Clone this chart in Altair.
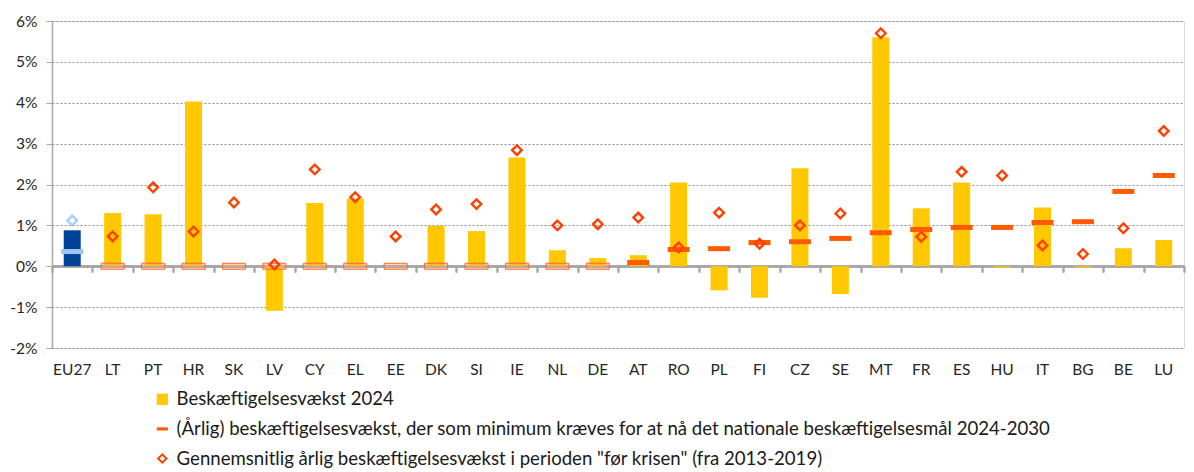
import altair as alt
import pandas as pd

countries = ["EU27", "LT", "PT", "HR", "SK", "LV", "CY", "EL", "EE", "DK", "SI", "IE", "NL", "DE",
             "AT", "RO", "PL", "FI", "CZ", "SE", "MT", "FR", "ES", "HU", "IT", "BG", "BE", "LU"]
growth_2024 = [0.88, 1.30, 1.27, 4.03, 0.02, -1.09, 1.55, 1.66, 0.00, 0.99, 0.86, 2.66, 0.39, 0.20,
               0.27, 2.05, -0.59, -0.77, 2.40, -0.68, 5.60, 1.42, 2.05, -0.03, 1.44, -0.03, 0.44, 0.64]
required_growth = [0.36, 0, 0, 0, 0, 0, 0, 0, 0, 0, 0, 0, 0, 0,
                   0.09, 0.41, 0.43, 0.58, 0.60, 0.68, 0.82, 0.90, 0.95, 0.95, 1.07, 1.09, 1.83, 2.22]
pre_crisis = [1.12, 0.73, 1.93, 0.85, 1.56, 0.04, 2.37, 1.69, 0.73, 1.39, 1.52, 2.84, 1.00, 1.03,
              1.19, 0.46, 1.31, 0.55, 1.00, 1.29, 5.70, 0.72, 2.31, 2.22, 0.51, 0.30, 0.93, 3.31]
series_names = [
    "Beskæftigelsesvækst 2024",
    "(Årlig) beskæftigelsesvækst, der som minimum kræves for at nå det nationale beskæftigelsesmål 2024-2030",
    "Gennemsnitlig årlig beskæftigelsesvækst i perioden \"før krisen\" (fra 2013-2019)",
]
y_ticks = [-2, -1, 0, 1, 2, 3, 4, 5, 6]

FONT = "Lato"
YELLOW = "#FFC800"
ORANGE = "#FF5A00"
RED = "#FF4000"

df = pd.DataFrame({
    "country": countries,
    "growth": growth_2024,
    "required": required_growth,
    "pre": pre_crisis,
})
leg_df = pd.DataFrame({"series": series_names, "country": ["EU27"] * 3, "v": [100.0] * 3})

yscale = alt.Scale(domain=[-2, 6], nice=False, zero=False)
yaxis = alt.Axis(values=y_ticks, labelExpr="datum.value + '%'", title=None,
                 domainColor="#A6A6A6", domainWidth=1.5, tickColor="#A6A6A6", tickSize=6,
                 gridColor="#8C8C8C", gridDash=[2, 2], gridWidth=1,
                 labelFont=FONT, labelFontSize=15.5, labelColor="#262626", labelPadding=9)
xsort = countries

x_labels = alt.X("country:N", sort=xsort, title=None,
                 scale=alt.Scale(paddingInner=0, paddingOuter=0),
                 axis=alt.Axis(orient="bottom", domain=False, ticks=False, grid=False,
                               labelAngle=0, labelFont=FONT, labelFontSize=15.5,
                               labelColor="#262626", labelPadding=14))
x_zero = alt.X("country:N", sort=xsort, title=None,
               scale=alt.Scale(paddingInner=0, paddingOuter=0),
               axis=alt.Axis(orient="bottom", offset=-82, labels=False, grid=False,
                             domainColor="#A6A6A6", domainWidth=2,
                             ticks=True, tickBand="extent", tickSize=6,
                             tickColor="#A6A6A6", tickWidth=1.5))

is_eu = alt.datum.country == "EU27"

bars = alt.Chart(df).mark_bar(size=17).encode(
    x=x_labels,
    y=alt.Y("growth:Q", scale=yscale, axis=yaxis),
    color=alt.condition(is_eu, alt.value("#00449A"), alt.value(YELLOW)),
)

zero_rects = alt.Chart(df).transform_filter(
    (alt.datum.required == 0) & (alt.datum.country != "EU27")
).mark_tick(size=23, thickness=6, fill="#F0A080", fillOpacity=0.45,
            stroke="#FF6A2A", strokeWidth=1).encode(
    x=x_zero,
    y=alt.Y("required:Q", scale=yscale, axis=yaxis),
)

dashes = alt.Chart(df).transform_filter(alt.datum.required != 0).mark_tick(
    size=22, thickness=5, opacity=1).encode(
    x=x_zero,
    y=alt.Y("required:Q", scale=yscale, axis=yaxis),
    color=alt.condition(is_eu, alt.value("#9DC3F0"), alt.value(ORANGE)),
)

diamonds = alt.Chart(df).mark_point(shape="diamond", size=92, filled=False, strokeWidth=2.4,
                                    opacity=1).encode(
    x=x_zero,
    y=alt.Y("pre:Q", scale=yscale, axis=yaxis),
    color=alt.condition(is_eu, alt.value("#A8CCF4"), alt.value(RED)),
)

square_path = "M-1,-1L1,-1L1,1L-1,1Z"
dash_path = "M-1,-0.28L1,-0.28L1,0.28L-1,0.28Z"
diamond_ring = "M0,-1L1,0L0,1L-1,0Z M0,-0.5L-0.5,0L0,0.5L0.5,0Z"

legend = alt.Legend(orient="none", legendX=101, legendY=369, title=None, direction="vertical",
                    labelFont=FONT, labelFontSize=18.6, labelColor="#1a1a1a", labelLimit=0,
                    symbolSize=125, rowPadding=10.6, labelOffset=5, padding=0)

legend_layer = alt.Chart(leg_df).mark_point(filled=True, clip=True, opacity=1).encode(
    x=x_zero,
    y=alt.Y("v:Q", scale=yscale, axis=yaxis),
    color=alt.Color("series:N", sort=series_names,
                    scale=alt.Scale(domain=series_names, range=[YELLOW, ORANGE, RED]),
                    legend=legend),
    shape=alt.Shape("series:N", sort=series_names,
                    scale=alt.Scale(domain=series_names, range=[square_path, dash_path, diamond_ring]),
                    legend=legend),
)

chart = alt.layer(bars, zero_rects, dashes, diamonds, legend_layer).resolve_axis(
    x="independent"
).resolve_scale(x="shared").properties(
    width=1132, height=327,
    autosize=alt.AutoSizeParams(type="none"),
    padding={"left": 44, "top": 13, "right": 2, "bottom": 122},
).configure_view(stroke=None).configure(background="white")

chart.save("out.html", embed_options={"renderer": "svg", "actions": False})
